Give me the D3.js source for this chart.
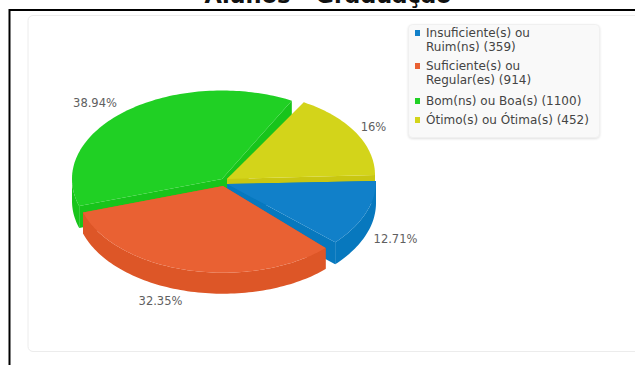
<!DOCTYPE html>
<html><head><meta charset="utf-8">
<script src="https://cdn.jsdelivr.net/npm/d3@7/dist/d3.min.js"></script>
<style>html,body{margin:0;padding:0;background:#fff;overflow:hidden}svg{display:block}</style>
</head><body><svg id="c" width="635" height="365"></svg>
<script>
const categories=["Insuficiente(s) ou|Ruim(ns)","Suficiente(s) ou|Regular(es)","Bom(ns) ou Boa(s)","Ótimo(s) ou Ótima(s)"];
const values=[359,914,1100,452];
const percentLabels=["12.71%","32.35%","38.94%","16%"];
const faceColors=["#1180c9","#e96133","#20d024","#d3d41a"];
const wallColors=["#0778be","#dd5627","#18c41b","#c9c711"];
const title="Alunos - Graduação";
const centers=[[227,184],[223,186],[222,179],[227,179]];
const radii=[149,147,150,148];
const warps=[-0.04,0,0.09,0.02];
const tilts=[3,0,0,4];
const depths=[22,21,22,21];
const labelPos=[[395.5,243],[160.5,305],[95,107],[373.5,131]];
const drawOrder=[2,3,0,1];

const svg=d3.select("#c");
const font="'DejaVu Sans',sans-serif";
svg.append("text").attr("x",328).attr("y",3).attr("text-anchor","middle")
  .attr("font-family",font).attr("font-weight","bold").attr("font-size",22.5).attr("fill","#111").text(title);
svg.append("rect").attr("x",28).attr("y",15.5).attr("width",640).attr("height",336).attr("rx",5)
  .attr("fill","#fff").attr("stroke","#ececec");
svg.append("path").attr("d","M9.5,365V10H635").attr("fill","none").attr("stroke","#000").attr("stroke-width",2);

const K=0.59;
const pie=d3.pie().sort(null).startAngle(0).endAngle(2*Math.PI);
const arcs=pie(values);
function warp(t,w){ // slight foreshortening of the two right-hand quadrants
  const inRight=(t>0&&t<Math.PI/2)||(t>1.5*Math.PI&&t<2*Math.PI);
  return inRight?t+w*Math.sin(2*t):t;
}
function pt(i,t,dz=0){
  const c=centers[i],R=radii[i],a=warp(t,warps[i]);
  return [c[0]+R*Math.cos(a),c[1]+R*K*Math.sin(a)-tilts[i]*Math.max(0,Math.cos(a))+dz];
}
function rim(i,a,b,dz=0){
  const n=Math.max(2,Math.ceil((b-a)*40));
  return d3.range(n+1).map(j=>pt(i,a+(b-a)*j/n,dz));
}
const line=d3.line();
drawOrder.forEach(i=>{
  const a=arcs[i],c=centers[i],s=a.startAngle,e=a.endAngle,D=depths[i];
  const g=svg.append("g");
  const apex=c, apexD=[c[0],c[1]+D];
  const wall=wallColors[i];
  [s,e].forEach(t=>{
    const p=pt(i,t),q=pt(i,t,D);
    g.append("path").attr("d",line([apex,p,q,apexD])+"Z").attr("fill",wall);
  });
  const from=Math.max(s,0),to=Math.min(e,Math.PI);
  if(to>from){
    const top=rim(i,from,to),bot=rim(i,from,to,D).reverse();
    g.append("path").attr("d",line(top.concat(bot))+"Z").attr("fill",wall);
  }
  g.append("path").attr("d",line([apex].concat(rim(i,s,e)))+"Z").attr("fill",faceColors[i]);
});
percentLabels.forEach((t,i)=>{
  svg.append("text").attr("x",labelPos[i][0]).attr("y",labelPos[i][1]).attr("text-anchor","middle")
   .attr("font-family",font).attr("font-size",11.5).attr("fill","#606060").text(t);
});
svg.append("rect").attr("x",408.5).attr("y",24.5).attr("width",191).attr("height",113).attr("rx",4)
  .attr("fill","#f9f9f9").attr("stroke","#f0f0f0").style("filter","drop-shadow(0 1px 1px rgba(0,0,0,.12))");
const legendY=[33,66,101,120];
categories.forEach((cat,i)=>{
  svg.append("rect").attr("x",415).attr("y",legendY[i]-3).attr("width",5).attr("height",6).attr("fill",faceColors[i]);
  const parts=cat.split("|");
  parts.forEach((p,j)=>{
    const isLast=j===parts.length-1;
    svg.append("text").attr("x",426).attr("y",legendY[i]+4+j*13.5)
     .attr("font-family",font).attr("font-size",12).attr("fill","#444")
     .text(isLast?`${p} (${values[i]})`:p);
  });
});
</script></body></html>
